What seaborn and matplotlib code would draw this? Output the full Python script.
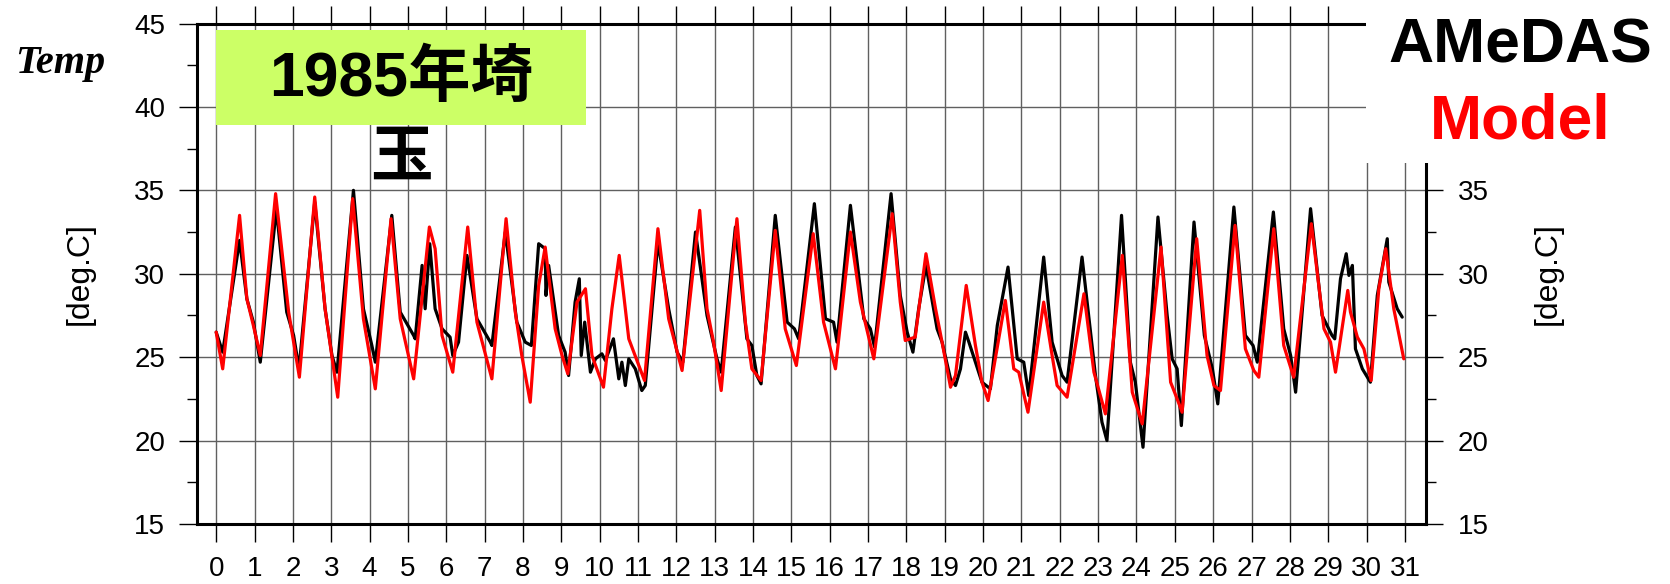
import matplotlib
matplotlib.use("Agg")
import matplotlib.pyplot as plt
from matplotlib.patches import Rectangle
from matplotlib.ticker import MultipleLocator, FixedLocator
import numpy as np
import pandas as pd
import seaborn as sns

# ---------------- data ----------------
amedas_day = [0.00, 0.17, 0.61, 0.80, 0.97, 1.15, 1.57, 1.84, 2.02, 2.16, 2.57, 2.84, 3.02, 3.15,
              3.58, 3.84, 4.06, 4.15, 4.58, 4.80, 5.15, 5.19, 5.37, 5.45, 5.57, 5.71, 5.89,
              6.10, 6.17, 6.32, 6.54, 6.80, 7.15, 7.19, 7.54, 7.84, 8.06, 8.22, 8.41, 8.58,
              8.60, 8.67, 8.93, 9.10, 9.19, 9.36, 9.47, 9.52, 9.61, 9.76, 9.89, 10.06, 10.15,
              10.36, 10.50, 10.58, 10.67, 10.76, 10.93, 11.10, 11.19, 11.52, 11.80, 12.02,
              12.17, 12.50, 12.80, 13.06, 13.17, 13.54, 13.84, 13.97, 14.10, 14.21, 14.58,
              14.89, 15.08, 15.19, 15.60, 15.89, 16.10, 16.19, 16.54, 16.89, 17.06, 17.17,
              17.60, 17.84, 18.02, 18.17, 18.32, 18.51, 18.80, 18.93, 19.15, 19.28, 19.41,
              19.54, 19.63, 19.97, 20.19, 20.37, 20.65, 20.89, 21.06, 21.19, 21.58, 21.80,
              22.06, 22.19, 22.58, 22.93, 23.10, 23.23, 23.61, 23.84, 23.97, 24.17, 24.56,
              24.80, 24.93, 25.06, 25.17, 25.50, 25.77, 25.98, 26.12, 26.54, 26.84, 27.04,
              27.15, 27.57, 27.84, 28.02, 28.15, 28.54, 28.84, 29.10, 29.17, 29.32, 29.47,
              29.54, 29.63, 29.71, 29.89, 30.10, 30.28, 30.54, 30.58, 30.80, 30.93]
amedas_temp = [26.5, 25.3, 32.0, 28.5, 27.1, 24.7, 33.9, 27.7, 26.3, 24.3, 34.3, 27.9, 25.1, 24.1,
               35.0, 27.9, 25.7, 24.7, 33.5, 27.7, 26.3, 26.1, 30.5, 27.9, 31.8, 27.9, 26.7,
               26.2, 25.1, 25.9, 31.1, 27.3, 25.9, 25.7, 32.5, 27.1, 25.9, 25.7, 31.8, 31.5,
               28.7, 30.5, 26.3, 25.3, 23.9, 28.3, 29.7, 25.1, 27.1, 24.1, 24.9, 25.2, 24.8,
               26.1, 23.7, 24.7, 23.3, 24.9, 24.3, 23.0, 23.3, 31.9, 27.9, 25.3,
               24.7, 32.5, 27.5, 24.9, 24.1, 32.8, 26.1, 25.7, 23.9, 23.4, 33.5,
               27.1, 26.7, 26.1, 34.2, 27.3, 27.1, 25.9, 34.1, 27.3, 26.7, 25.6,
               34.8, 28.7, 26.5, 25.3, 27.9, 30.5, 26.7, 25.9, 23.7, 23.3, 24.3,
               26.5, 25.9, 23.5, 23.1, 26.9, 30.4, 24.9, 24.7, 22.7, 31.0, 25.9,
               23.9, 23.5, 31.0, 23.9, 21.1, 20.0, 33.5, 24.7, 23.5, 19.6, 33.4,
               27.5, 24.9, 24.3, 20.9, 33.1, 26.3, 24.3, 22.2, 34.0, 26.3, 25.7,
               24.7, 33.7, 26.7, 25.1, 22.9, 33.9, 27.5, 26.3, 26.1, 29.7, 31.2,
               29.9, 30.5, 25.5, 24.3, 23.5, 28.7, 32.1, 29.5, 27.9, 27.4]

model_day = [0.00, 0.17, 0.61, 0.80, 0.97, 1.15, 1.55, 1.89, 2.17, 2.57, 2.84, 3.17, 3.56, 3.84,
             4.15, 4.56, 4.80, 5.15, 5.56, 5.71, 5.89, 6.17, 6.56, 6.80, 7.19, 7.56, 7.80,
             7.97, 8.19, 8.41, 8.58, 8.84, 9.02, 9.17, 9.41, 9.63, 9.80, 10.10, 10.32, 10.51,
             10.76, 11.17, 11.52, 11.80, 12.15, 12.61, 12.80, 12.97, 13.17, 13.58, 13.80,
             13.97, 14.21, 14.58, 14.84, 15.13, 15.57, 15.84, 16.15, 16.54, 16.80, 17.15,
             17.63, 17.84, 17.97, 18.23, 18.51, 18.76, 18.93, 19.15, 19.28, 19.56, 19.80,
             19.97, 20.13, 20.58, 20.80, 20.93, 21.17, 21.58, 21.80, 21.93, 22.19, 22.63,
             22.89, 23.19, 23.63, 23.89, 24.15, 24.64, 24.89, 25.06, 25.19, 25.57, 25.84,
             26.02, 26.19, 26.57, 26.84, 27.06, 27.19, 27.58, 27.84, 28.10, 28.56, 28.89,
             29.06, 29.19, 29.51, 29.58, 29.76, 29.93, 30.12, 30.32, 30.50, 30.71, 30.97]
model_temp = [26.5, 24.3, 33.5, 28.5, 26.9, 25.1, 34.8, 27.7, 23.8, 34.6, 27.9, 22.6, 34.5, 27.3,
              23.1, 33.3, 27.3, 23.7, 32.8, 31.5, 26.3, 24.1, 32.8, 27.1, 23.7, 33.3, 27.7,
              25.1, 22.3, 29.3, 31.6, 26.7, 25.1, 24.0, 28.3, 29.1, 25.1, 23.2, 27.9, 31.1,
              26.1, 23.6, 32.7, 27.3, 24.2, 33.8, 27.9, 25.9, 23.0, 33.3, 27.1,
              24.3, 23.6, 32.6, 26.7, 24.5, 32.4, 27.1, 24.3, 32.5, 28.3, 24.9,
              33.6, 28.3, 26.0, 26.2, 31.2, 27.9, 25.9, 23.2, 23.9, 29.3, 25.7,
              23.5, 22.4, 28.4, 24.3, 24.1, 21.7, 28.3, 25.1, 23.3, 22.6, 28.8,
              24.1, 21.6, 31.1, 22.9, 21.0, 31.6, 23.5, 22.5, 21.7, 32.1, 25.1,
              23.3, 23.0, 32.9, 25.5, 24.2, 23.8, 32.7, 25.7, 23.8, 33.0, 26.7,
              25.9, 24.1, 29.0, 27.7, 26.2, 25.5, 23.6, 29.1, 31.5, 27.9, 24.9]

x_ticks = list(range(0, 32))
y_ticks_left = [15, 20, 25, 30, 35, 40, 45]
y_ticks_right = [15, 20, 25, 30, 35]

amedas_df = pd.DataFrame({"day": amedas_day, "temp": amedas_temp})
model_df = pd.DataFrame({"day": model_day, "temp": model_temp})

# ---------------- figure ----------------
sns.set_theme(style="white")
plt.rcParams["font.family"] = ["Liberation Sans", "Noto Sans CJK JP", "DejaVu Sans"]

W, H = 1670, 584
fig = plt.figure(figsize=(W / 100, H / 100), dpi=100)
fig.patch.set_facecolor("white")

def fx(px):
    return px / W

def fy(py):
    return 1 - py / H

ax_l, ax_r, ax_t, ax_b = 197, 1426, 23.5, 524
ax = fig.add_axes([fx(ax_l), fy(ax_b), (ax_r - ax_l) / W, (ax_b - ax_t) / H])
ax.set_facecolor("white")

sns.lineplot(data=amedas_df, x="day", y="temp", ax=ax, color="black", lw=2.3,
             estimator=None, sort=False, zorder=3)
sns.lineplot(data=model_df, x="day", y="temp", ax=ax, color="#ff0000", lw=2.3,
             estimator=None, sort=False, zorder=4)

ax.set_xlim(-0.5, 31.55)
ax.set_ylim(15, 45)
ax.set_xticks(x_ticks)
ax.set_xticklabels([str(t) for t in x_ticks])
ax.set_yticks(y_ticks_left)
ax.set_yticklabels([str(t) for t in y_ticks_left])
ax.yaxis.set_minor_locator(MultipleLocator(2.5))
ax.set_xlabel("")
ax.set_ylabel("")

ax.grid(True, which="major", axis="both", color="#606060", lw=1.0)
ax.set_axisbelow(True)

for s in ax.spines.values():
    s.set_visible(True)
    s.set_color("black")
    s.set_linewidth(2.2)

ax.tick_params(axis="x", which="major", direction="out", length=13, width=1.0,
               color="black", labelsize=20, pad=10, top=True, bottom=True,
               labelcolor="black")
ax.tick_params(axis="y", which="major", direction="out", length=13, width=1.0,
               color="black", labelsize=20, pad=10, left=True, right=False,
               labelleft=True, labelright=False, labelcolor="black")
ax.tick_params(axis="y", which="minor", direction="out", length=7, width=1.0,
               color="black", left=True, right=False)

# right-hand axis (labels only up to 35)
ax2 = ax.twinx()
ax2.set_ylim(15, 45)
ax2.yaxis.set_major_locator(FixedLocator(y_ticks_right))
ax2.set_yticklabels([str(t) for t in y_ticks_right])
ax2.yaxis.set_minor_locator(FixedLocator([17.5, 22.5, 27.5, 32.5]))
ax2.tick_params(axis="y", which="major", direction="out", length=12, width=1.0,
                color="black", labelsize=20, pad=11, labelcolor="black")
ax2.tick_params(axis="y", which="minor", direction="out", length=7, width=1.0,
                color="black")
ax2.grid(False)
for s in ax2.spines.values():
    s.set_visible(False)

# axis labels
fig.text(fx(80), fy(274), "[deg.C]", rotation=90, ha="center", va="center",
         fontsize=23, color="black")
fig.text(fx(1548), fy(274), "[deg.C]", rotation=90, ha="center", va="center",
         fontsize=23, color="black")
fig.text(fx(60), fy(63), "Temp", ha="center", va="center", fontsize=29,
         family="Liberation Serif", style="italic", weight="bold", color="black")

# cut-off blue text at very top (as in the reference)
fig.text(fx(1328), fy(6), "DS", ha="center", va="bottom", fontsize=20,
         family="Liberation Serif", style="italic", color="blue")

# white cover at top right with legend words
fig.add_artist(Rectangle((fx(1366), fy(163)), 1 - fx(1366), 163 / H,
                         transform=fig.transFigure, facecolor="white",
                         edgecolor="none", zorder=10))
fig.text(fx(1520), fy(46), "AMeDAS", ha="center", va="center", fontsize=45,
         weight="bold", color="black", zorder=11)
fig.text(fx(1520), fy(122), "Model", ha="center", va="center", fontsize=45,
         weight="bold", color="#ff0000", zorder=11)

# green title box
fig.add_artist(Rectangle((fx(216), fy(125)), (586 - 216) / W, (125 - 30) / H,
                         transform=fig.transFigure, facecolor="#ccff66",
                         edgecolor="none", zorder=10))
fig.text(fx(401), fy(79), "1985年埼", ha="center", va="center", fontsize=45,
         weight="bold", color="black", zorder=11,
         family=["Liberation Sans", "Noto Sans CJK JP"])
fig.text(fx(401), fy(157), "玉", ha="center", va="center", fontsize=45,
         weight="bold", color="black", zorder=11,
         family=["Noto Sans CJK JP"])

fig.savefig("out.png", dpi=100, facecolor="white")
